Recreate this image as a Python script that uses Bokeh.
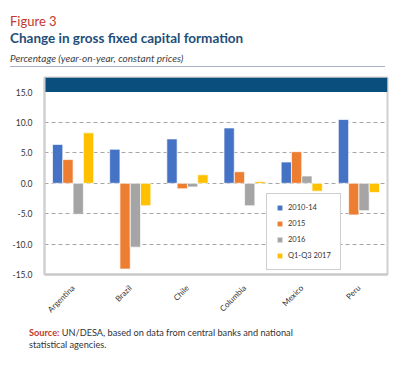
import math
from bokeh.plotting import figure
from bokeh.layouts import column
from bokeh.models import (ColumnDataSource, Range1d, FactorRange, BoxAnnotation, Div,
                          Legend, LegendItem, FixedTicker, NumeralTickFormatter)
from bokeh.transform import dodge
from bokeh.embed import file_html
from bokeh.resources import INLINE

countries = ["Argentina", "Brazil", "Chile", "Columbia", "Mexico", "Peru"]
series_names = ["2010-14", "2015", "2016", "Q1-Q3 2017"]
v_2010_14 = [6.4, 5.6, 7.3, 9.1, 3.5, 10.5]
v_2015 = [3.9, -14.1, -0.9, 1.9, 5.2, -5.2]
v_2016 = [-5.1, -10.5, -0.6, -3.7, 1.2, -4.5]
v_q1q3_2017 = [8.3, -3.7, 1.4, 0.3, -1.3, -1.5]
y_ticks = [-15, -10, -5, 0, 5, 10, 15]

colors = ["#4472C4", "#ED7D31", "#A5A5A5", "#FFC000"]
FONT = "Lato"

W = 400
HEAD_H, MAIN_H, FOOT_H = 70, 250, 49


def txt(text, left, cy, size, color, weight="normal", style="normal", lh=16):
    return (f'<div style="position:absolute; left:{left}px; top:{cy - lh / 2}px; height:{lh}px; '
            f'line-height:{lh}px; white-space:nowrap; font-family:{FONT}; font-size:{size}px; '
            f'font-weight:{weight}; font-style:{style}; color:{color};">{text}</div>')


# ---- header ----
head_html = ('<div style="position:relative; width:400px; height:70px;">'
             + txt("Figure 3", 10, 20.5, 13, "#C0392B")
             + txt("Change in gross fixed capital formation", 10, 38, 13.5, "#1F4E79", weight="bold")
             + txt("Percentage (year-on-year, constant prices)", 10, 58, 10, "#404040", style="italic")
             + '<div style="position:absolute; left:10px; top:66px; width:375px; height:0px; '
               'border-top:1px solid #A9B1C8;"></div>'
             + '</div>')
head = Div(text=head_html, width=W, height=HEAD_H, margin=0)

# ---- main chart ----
src = ColumnDataSource(dict(country=countries, a=v_2010_14, b=v_2015, c=v_2016, d=v_q1q3_2017))

p = figure(width=W, height=MAIN_H, x_range=FactorRange(*countries), y_range=Range1d(-15, 17.4),
           output_backend="svg", toolbar_location=None,
           min_border_left=44, min_border_right=13, min_border_top=7, min_border_bottom=42)

p.outline_line_color = "#D0D0D0"
p.outline_line_width = 2
p.background_fill_color = "white"
p.border_fill_color = "white"

p.add_layout(BoxAnnotation(bottom=15, fill_color="#0A4E7E", fill_alpha=1, line_alpha=0, level="underlay"))

offsets = [-0.27, -0.09, 0.09, 0.27]
renderers = []
for col, off, c in zip(["a", "b", "c", "d"], offsets, colors):
    r = p.vbar(x=dodge("country", off, range=p.x_range), top=col, width=0.18, source=src,
               fill_color=c, line_color="white", line_width=0.7)
    renderers.append(r)

p.xgrid.visible = False
p.ygrid.ticker = FixedTicker(ticks=[-10, -5, 0, 5, 10])
p.ygrid.grid_line_color = "#A6A6A6"
p.ygrid.grid_line_dash = "4 3"
p.ygrid.grid_line_width = 1

p.yaxis.ticker = FixedTicker(ticks=y_ticks)
p.yaxis.formatter = NumeralTickFormatter(format="0.0")
p.yaxis.major_tick_line_color = None
p.yaxis.minor_tick_line_color = None
p.yaxis.major_tick_out = 0
p.yaxis.major_tick_in = 0
p.yaxis.minor_tick_out = 0
p.yaxis.axis_line_color = "#D0D0D0"
p.yaxis.axis_line_width = 2
p.yaxis.major_label_text_font = FONT
p.yaxis.major_label_text_font_size = "8.5px"
p.yaxis.major_label_text_color = "#333333"
p.yaxis.major_label_standoff = 12

p.xaxis.major_tick_line_color = None
p.xaxis.minor_tick_line_color = None
p.xaxis.major_tick_out = 0
p.xaxis.major_tick_in = 0
p.xaxis.minor_tick_out = 0
p.xaxis.axis_line_color = "#C8C8C8"
p.xaxis.axis_line_width = 2
p.xaxis.major_label_orientation = math.pi / 4
p.xaxis.major_label_text_font = FONT
p.xaxis.major_label_text_font_size = "8px"
p.xaxis.major_label_text_color = "#333333"
p.xaxis.major_label_standoff = 12

legend = Legend(items=[LegendItem(label=n, renderers=[r]) for n, r in zip(series_names, renderers)],
                location=(222, 4), label_text_font=FONT, label_text_font_size="7.5px",
                label_text_color="#333333", glyph_width=7, glyph_height=7, label_height=8,
                spacing=7, padding=9, label_standoff=5, border_line_color="#A0A0A0",
                border_line_width=1, background_fill_alpha=1)
p.add_layout(legend, "center")

# ---- footer ----
foot_html = ('<div style="position:relative; width:400px; height:49px;">'
             + txt('<span style="color:#C0392B; font-weight:bold;">Source:</span> '
                   'UN/DESA, based on data from central banks and national', 29, 13.3, 9.2, "#333333", lh=12)
             + txt("statistical agencies.", 29, 25, 9.2, "#333333", lh=12)
             + '</div>')
foot = Div(text=foot_html, width=W, height=FOOT_H, margin=0)

layout = column(head, p, foot, spacing=0)
open("out.html", "w").write(file_html(layout, INLINE))
